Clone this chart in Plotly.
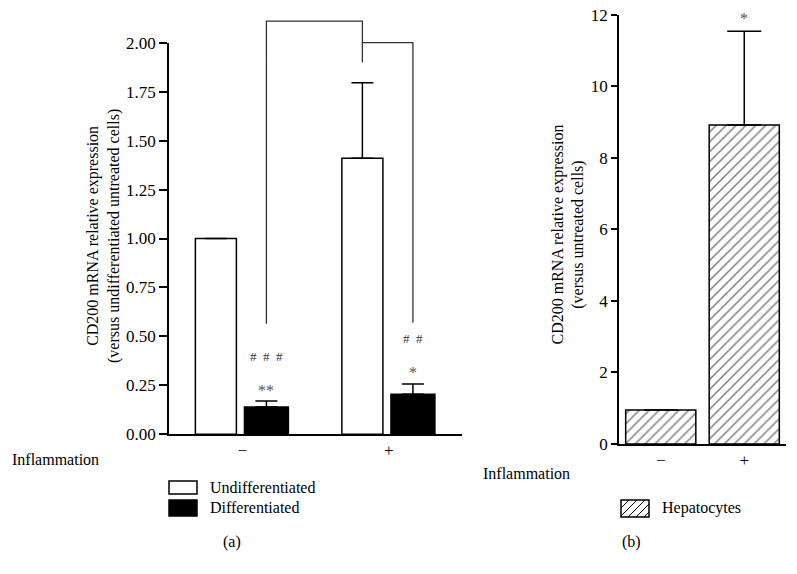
import plotly.graph_objects as go

# ---------------- data ----------------
inflammation_ticks = ["\u2212", "+"]
series_a = ["Undifferentiated", "Differentiated"]
undiff_vals = [1.00, 1.41]
undiff_err = [0.0, 0.385]
diff_vals = [0.14, 0.205]
diff_err = [0.03, 0.052]
diff_stars = ["**", "*"]
diff_hashes = ["#\u00a0\u00a0#\u00a0\u00a0#", "#\u00a0\u00a0#"]

series_b = ["Hepatocytes"]
hep_vals = [0.95, 8.92]
hep_err = [0.0, 2.62]
hep_stars = ["", "*"]

yticks_a = [0, 0.25, 0.5, 0.75, 1.0, 1.25, 1.5, 1.75, 2.0]
yticks_b = [0, 2, 4, 6, 8, 10, 12]

# significance brackets (data units)
bracket1 = dict(y_top=2.11, y_left_low=0.565, y_right_low=1.90)
bracket2 = dict(y_top=2.00, y_right_low=0.57)

# ---------------- geometry helpers ----------------
W, H = 797, 574
OFF = 0  # page body margin is removed below
def px(x):
    return (x - OFF) / W
def py(y):
    return 1 - (y - OFF) / H

FONT = "Liberation Serif"
xpos = [0, 1]
XR = [-0.5, 1.5]
YR_A = [0, 2]
YR_B = [0, 12]
XDOM_A = [px(169), px(462)]
YDOM_A = [py(434.3), py(42.7)]
XDOM_B = [px(619), px(786)]
YDOM_B = [py(444), py(14.7)]

def to_paper(v, rng, dom):
    return dom[0] + (v - rng[0]) / (rng[1] - rng[0]) * (dom[1] - dom[0])

# bar placement (offset, width in category units)
U_OFF, U_W = -0.32, 0.28
D_OFF, D_W = 0.015, 0.30
H_OFF, H_W = -0.42, 0.84
u_center = U_OFF + U_W / 2
d_center = D_OFF + D_W / 2

fig = go.Figure()

err_style = dict(type="data", symmetric=False, color="black", thickness=1.5)

fig.add_trace(go.Bar(
    x=xpos, y=undiff_vals, name=series_a[0], offset=U_OFF, width=U_W,
    marker=dict(color="white", line=dict(color="black", width=1.5)),
    error_y=dict(array=undiff_err, arrayminus=[0, 0], width=11, **err_style),
    xaxis="x", yaxis="y", showlegend=False,
))
fig.add_trace(go.Bar(
    x=xpos, y=diff_vals, name=series_a[1], offset=D_OFF, width=D_W,
    marker=dict(color="black", line=dict(color="black", width=1.5)),
    error_y=dict(array=diff_err, arrayminus=[0, 0], width=11, **err_style),
    xaxis="x", yaxis="y", showlegend=False,
))
fig.add_trace(go.Bar(
    x=xpos, y=hep_vals, name=series_b[0], offset=H_OFF, width=H_W,
    marker=dict(color="white", line=dict(color="black", width=1.5),
                pattern=dict(shape="/", fgcolor="black", bgcolor="white",
                             size=7, solidity=0.22)),
    error_y=dict(array=hep_err, arrayminus=[0, 0], width=17, **err_style),
    xaxis="x2", yaxis="y2", showlegend=False,
))

shapes = []
# brackets (converted from data to paper so they are not clipped)
br_col = "#333333"
bx1 = [xpos[0] + d_center, xpos[0] + d_center, xpos[1] + u_center, xpos[1] + u_center]
by1 = [bracket1["y_left_low"], bracket1["y_top"], bracket1["y_top"], bracket1["y_right_low"]]
bx2 = [xpos[1] + u_center, xpos[1] + d_center, xpos[1] + d_center]
by2 = [bracket2["y_top"], bracket2["y_top"], bracket2["y_right_low"]]
for bx, by in [(bx1, by1), (bx2, by2)]:
    pts = [(to_paper(a, XR, XDOM_A), to_paper(b, YR_A, YDOM_A)) for a, b in zip(bx, by)]
    path = "M" + "L".join(f"{a},{b}" for a, b in pts)
    shapes.append(dict(type="path", xref="paper", yref="paper", path=path,
                       line=dict(color=br_col, width=1.3)))

annotations = []
# stars / hashes on panel a
for i in range(2):
    top = diff_vals[i] + diff_err[i]
    annotations.append(dict(x=xpos[i] + d_center, y=top, xref="x", yref="y",
                            text=diff_stars[i], showarrow=False, xanchor="center",
                            yanchor="middle", yshift=11,
                            font=dict(family=FONT, size=16, color="#555555")))
    annotations.append(dict(x=xpos[i] + d_center, y=top, xref="x", yref="y",
                            text=diff_hashes[i], showarrow=False, xanchor="center",
                            yanchor="middle", yshift=45,
                            font=dict(family=FONT, size=13, color="#333333")))
for i in range(2):
    if hep_stars[i]:
        annotations.append(dict(x=xpos[i], y=hep_vals[i] + hep_err[i], xref="x2", yref="y2",
                                text=hep_stars[i], showarrow=False, xanchor="center",
                                yanchor="middle", yshift=13,
                                font=dict(family=FONT, size=16, color="#555555")))

def note(x, y, text, xanchor="center", angle=0):
    annotations.append(dict(x=px(x), y=py(y), xref="paper", yref="paper", text=text,
                            xanchor=xanchor, yanchor="middle", showarrow=False,
                            textangle=angle, font=dict(family=FONT, size=16, color="black")))

# axis titles
ytitle1 = ["CD200 mRNA relative expression", "(versus undifferentiated untreated cells)"]
ytitle2 = ["CD200 mRNA relative expression", "(versus untreated cells)"]
note(104, 236, "<br>".join(ytitle1), angle=-90)
note(567.5, 235, "<br>".join(ytitle2), angle=-90)
# Inflammation labels
note(10, 459, "Inflammation", xanchor="left")
note(481, 473, "Inflammation", xanchor="left")
# panel labels
note(232, 542, "(a)")
note(631, 542, "(b)")

# legend (manual)
leg_a = [(481, 494, "white"), (500, 516, "black")]
for (y0, y1, col), name in zip(leg_a, series_a):
    shapes.append(dict(type="rect", xref="paper", yref="paper", x0=px(169), x1=px(197),
                       y0=py(y1), y1=py(y0), fillcolor=col, line=dict(color="black", width=1.5)))
    note(208, (y0 + y1) / 2, name, xanchor="left")
# hatched legend box for panel b
bx0, bx1_, by0, by1_ = 621, 649, 500, 517
shapes.append(dict(type="rect", xref="paper", yref="paper", x0=px(bx0), x1=px(bx1_),
                   y0=py(by1_), y1=py(by0), fillcolor="white", line=dict(color="black", width=1.5)))
path = ""
step = 8
hb = by1_ - by0
for k in range(-hb, bx1_ - bx0, step):
    xs, ys = bx0 + k, by1_
    xe, ye = bx0 + k + hb, by0
    if xs < bx0:
        ys = by1_ - (bx0 - xs); xs = bx0
    if xe > bx1_:
        ye = by0 + (xe - bx1_); xe = bx1_
    if xe - xs > 1:
        path += f"M{px(xs)},{py(ys)}L{px(xe)},{py(ye)}"
shapes.append(dict(type="path", xref="paper", yref="paper", path=path,
                   line=dict(color="black", width=1)))
note(660, 508, series_b[0], xanchor="left")

axis_common = dict(showgrid=False, zeroline=False, linecolor="black", linewidth=1.5,
                   ticklabeloverflow="allow",
                   tickfont=dict(family=FONT, size=17, color="black"))

fig.update_layout(
    width=W, height=H, margin=dict(l=0, r=0, t=0, b=0, autoexpand=False),
    paper_bgcolor="white", plot_bgcolor="white", barmode="overlay",
    font=dict(family=FONT, size=16, color="black"),
    xaxis=dict(domain=XDOM_A, range=XR, tickvals=xpos,
               ticktext=inflammation_ticks, showline=True, ticks="", anchor="y", **axis_common),
    yaxis=dict(domain=YDOM_A, range=YR_A, tickvals=yticks_a,
               tickformat=".2f", showline=True, ticks="outside", ticklen=8, tickwidth=1.5,
               tickcolor="black", anchor="x", **axis_common),
    xaxis2=dict(domain=XDOM_B, range=XR, tickvals=xpos,
                ticktext=inflammation_ticks, showline=True, ticks="", anchor="y2", **axis_common),
    yaxis2=dict(domain=YDOM_B, range=YR_B, tickvals=yticks_b,
                showline=True, ticks="outside", ticklen=6, tickwidth=1.5,
                tickcolor="black", anchor="x2", **axis_common),
    annotations=annotations, shapes=shapes, showlegend=False,
)

fig.write_html("out.html", config={"displayModeBar": False},
               post_script="document.body.style.margin='0';")
